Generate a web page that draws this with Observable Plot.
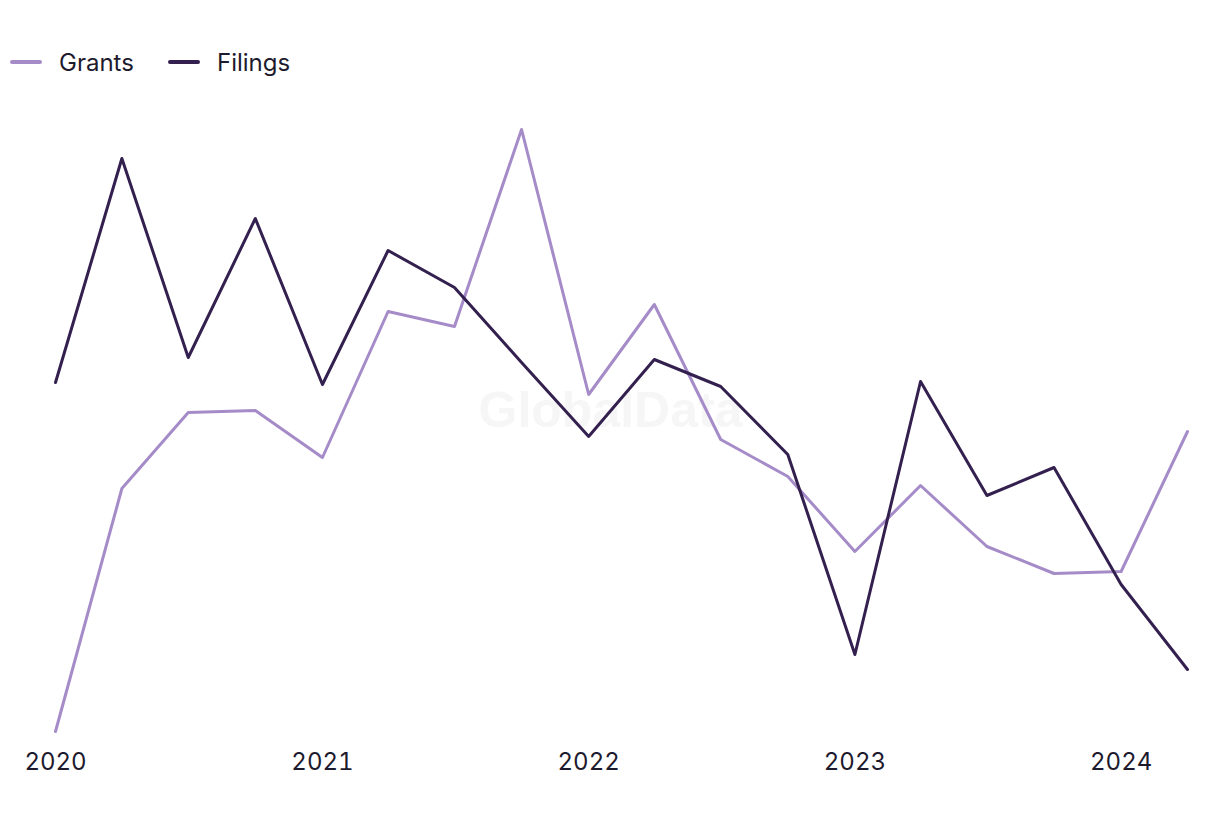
<!DOCTYPE html>
<html>
<head>
<meta charset="utf-8">
<script src="https://cdn.jsdelivr.net/npm/d3@7"></script>
<script src="https://cdn.jsdelivr.net/npm/@observablehq/plot@0.6"></script>
<style>
  html, body { margin: 0; padding: 0; background: #fff; }
  body { width: 1220px; height: 820px; overflow: hidden; font-family: Inter, "Noto Sans", sans-serif; }
  #legend { position: relative; height: 100px; }
  .item { position: absolute; top: 48px; height: 28px; display: flex; align-items: center; font-size: 24px; color: #1e1a2e; }
  .sw { width: 32px; height: 4px; border-radius: 2px; margin-right: 17px; }
</style>
</head>
<body>
<div id="legend"></div>
<div id="chart"></div>
<script>
const quarters = ["2020-01-01","2020-04-01","2020-07-01","2020-10-01","2021-01-01","2021-04-01","2021-07-01","2021-10-01","2022-01-01","2022-04-01","2022-07-01","2022-10-01","2023-01-01","2023-04-01","2023-07-01","2023-10-01","2024-01-01","2024-04-01"];
const grants = [34.5,156,194,195,171.5,244.5,237,335.5,203,248,180.5,162,124.5,157.5,127,113.5,114.5,184.5];
const filings = [209,321,221.5,291,208,275,256.5,219,182,220.5,207,173,73,209.5,152.5,166.5,108,65.5];
const seriesNames = ["Grants","Filings"];
const seriesColors = ["#a58bc8","#33204f"];
const tickYears = ["2020","2021","2022","2023","2024"];

const parse = d3.utcParse("%Y-%m-%d");
const rows = [];
quarters.forEach((q, i) => {
  rows.push({date: parse(q), value: grants[i], series: seriesNames[0]});
  rows.push({date: parse(q), value: filings[i], series: seriesNames[1]});
});

// legend
const legend = document.getElementById("legend");
const lefts = [10, 168];
seriesNames.forEach((n, i) => {
  const it = document.createElement("div");
  it.className = "item";
  it.style.left = lefts[i] + "px";
  it.innerHTML = `<span class="sw" style="background:${seriesColors[i]}"></span><span>${n}</span>`;
  legend.appendChild(it);
});

const chart = Plot.plot({
  width: 1220,
  height: 720,
  marginLeft: 55,
  marginRight: 33,
  marginTop: 29,
  marginBottom: 89,
  style: {fontFamily: "Inter, 'Noto Sans', sans-serif", fontSize: "24px", color: "#1e1a2e", background: "#fff"},
  x: {type: "utc", domain: [parse(quarters[0]), parse(quarters[quarters.length - 1])]},
  y: {domain: [34.5, 335.5], axis: null},
  color: {domain: seriesNames, range: seriesColors},
  marks: [
    Plot.text(["GlobalData"], {frameAnchor: "middle", dx: -11, dy: -20, fontSize: 50, fontWeight: "bold", fill: "#f6f6f6", fontFamily: "Arial, 'Liberation Sans', sans-serif"}),
    Plot.axisX({ticks: tickYears.map(y => parse(y + "-01-01")), tickFormat: d3.utcFormat("%Y"), tickSize: 0, tickPadding: 21, label: null}),
    Plot.lineY(rows, {x: "date", y: "value", z: "series", stroke: "series", strokeWidth: 3, curve: "linear"})
  ]
});
document.getElementById("chart").appendChild(chart);
</script>
</body>
</html>
